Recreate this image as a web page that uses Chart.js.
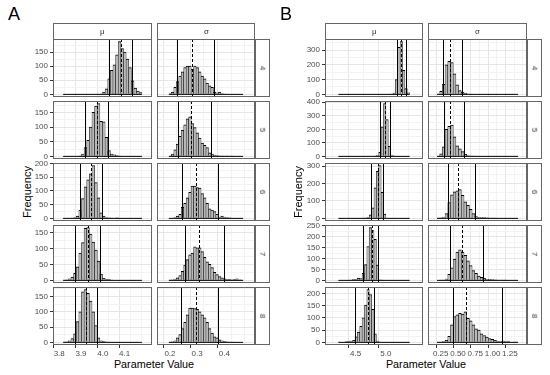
<!DOCTYPE html>
<html>
<head>
<meta charset="utf-8">
<script src="https://cdn.jsdelivr.net/npm/chart.js@4.4.0/dist/chart.umd.min.js"></script>
<style>
body{margin:0;background:#fff;font-family:"Liberation Sans",Arial,sans-serif;}
#wrap{position:relative;width:550px;height:375px;overflow:hidden;}
#wrap canvas{position:absolute;}
.strip{position:absolute;box-sizing:border-box;border:1px solid #666;background:#fff;color:#333;font-size:8px;display:flex;align-items:center;justify-content:center;}
.strip span{display:block;line-height:1;will-change:transform;}
.txt{position:absolute;line-height:1;white-space:nowrap;color:#000;}
</style>
</head>
<body>
<div id="wrap"></div>
<script>
// rows of the facet grid
const kRows = ['4','5','6','7','8'];
const params = ['μ','σ'];

// A: counts per bin (30 bins each)
const muA4 = [0,0,0,0,0,0,0,0,0,0,0,0,0,0,2,8,20,55,85,105,140,187,162,150,125,95,48,22,12,6];
const muA5 = [0,0,0,0,0,0,2,8,30,55,100,150,172,180,120,118,65,20,8,5,3,1,0,0,0,0,0,0,0,0];
const muA6 = [0,0,0,1,3,8,30,72,115,140,162,192,130,75,20,8,3,2,1,0,2,0,0,0,0,0,0,0,0,0];
const muA7 = [1,2,5,10,22,42,85,118,163,165,145,120,95,60,20,6,3,3,1,0,0,0,0,0,0,0,0,0,0,0];
const muA8 = [1,2,5,12,28,68,100,165,172,160,135,100,55,15,5,3,1,0,0,0,0,0,0,0,0,0,0,0,0,0];
const sdA4 = [3,8,25,45,65,80,95,100,100,90,100,95,80,65,55,40,30,25,8,5,8,3,1,0,0,0,0,0,0,0];
const sdA5 = [2,8,22,42,68,90,108,128,135,112,98,80,62,45,38,30,12,8,4,3,2,2,1,2,1,1,0,0,0,0];
const sdA6 = [0,0,3,8,15,40,55,75,95,118,118,112,110,90,75,55,35,30,25,15,5,8,5,3,2,0,0,0,0,0];
const sdA7 = [1,2,4,8,15,28,48,65,80,85,105,102,102,90,72,58,50,40,25,18,12,8,5,3,3,2,3,5,2,1];
const sdA8 = [1,2,5,15,25,45,65,90,112,112,110,108,100,90,80,65,45,30,18,15,8,5,3,2,1,1,0,0,0,0];

// B
const muB4 = [0,0,0,0,0,0,0,0,0,0,0,0,0,0,0,0,0,0,0,0,0,0,1,8,100,320,358,163,40,10];
const muB5 = [0,0,0,0,0,0,0,0,0,0,0,0,0,0,0,2,5,30,218,390,272,75,10,2,0,0,0,0,0,0];
const muB6 = [0,0,0,0,0,0,0,0,0,0,1,2,5,20,60,175,270,303,150,25,2,0,0,0,0,0,0,0,0,0];
const muB7 = [0,0,0,0,1,2,5,6,10,8,32,72,155,242,228,188,70,3,1,0,0,0,0,0,0,0,0,0,0,0];
const muB8 = [1,2,2,3,5,5,8,23,42,65,100,152,215,195,135,35,5,1,0,0,0,0,0,0,0,0,0,0,0,0];
const sdB4 = [3,20,68,200,225,215,140,65,25,15,8,3,1,0,0,0,0,0,0,0,0,0,0,0,0,0,0,0,0,0];
const sdB5 = [3,18,70,200,222,232,145,78,55,35,15,6,2,1,0,0,0,0,0,0,0,0,0,0,0,0,0,0,0,0];
const sdB6 = [1,3,8,28,90,135,152,158,165,132,95,75,52,28,10,6,5,4,3,2,2,1,0,0,0,0,0,0,0,0];
const sdB7 = [0,1,2,6,28,58,98,130,140,130,115,90,68,45,32,20,14,9,5,5,4,3,2,2,1,1,0,0,0,0];
const sdB8 = [1,1,3,8,25,72,105,112,118,115,125,98,88,72,55,50,35,28,22,15,12,8,5,3,5,3,5,2,1,1];

// lower bound, centre (dashed), upper bound
const linesMuA = [[4.027,4.082,4.136],[3.917,3.972,4.022],[3.894,3.945,3.994],[3.874,3.932,3.988],[3.874,3.921,3.975]];
const linesSdA = [[0.226,0.281,0.361],[0.231,0.277,0.350],[0.246,0.297,0.377],[0.254,0.308,0.397],[0.241,0.295,0.378]];
const linesMuB = [[5.180,5.254,5.342],[4.912,4.991,5.070],[4.759,4.877,4.957],[4.625,4.772,4.872],[4.496,4.697,4.807]];
const linesSdB = [[0.276,0.378,0.558],[0.295,0.391,0.592],[0.351,0.496,0.746],[0.382,0.553,0.864],[0.426,0.614,1.141]];

// bin range per column
const binsA = [[3.818,4.179],[0.196,0.469]];
const binsB = [[4.214,5.395],[0.196,1.368]];

// tick labels
const xTicksA = [[3.8,3.9,4.0,4.1],[0.2,0.3,0.4]];
const xTicksB = [[4.5,5.0],[0.25,0.5,0.75,1.0,1.25]];
const xDecA = [1,1];
const xDecB = [1,2];
const yTicksA = [[0,50,100,150],[0,50,100,150],[0,50,100,150,200],[0,50,100,150],[0,50,100,150]];
const yTicksB = [[0,100,200,300],[0,100,200,300,400],[0,100,200,300],[0,50,100,150,200,250],[0,50,100,150,200]];

const histA = [[muA4,sdA4],[muA5,sdA5],[muA6,sdA6],[muA7,sdA7],[muA8,sdA8]];
const histB = [[muB4,sdB4],[muB5,sdB5],[muB6,sdB6],[muB7,sdB7],[muB8,sdB8]];

const sides = [
  {tag:'A', hist:histA, lines:[linesMuA,linesSdA], bins:binsA, xTicks:xTicksA, xDec:xDecA, yTicks:yTicksA,
   colX:[53,157], colW:[99,98], stripX:255, tagX:8, freqX:27, titleX:154},
  {tag:'B', hist:histB, lines:[linesMuB,linesSdB], bins:binsB, xTicks:xTicksB, xDec:xDecB, yTicks:yTicksB,
   colX:[325,428], colW:[98,99], stripX:527, tagX:280, freqX:298, titleX:426}
];

const rowTop = 39, rowH = 58, rowGap = 4, pad = 6;
const tickFont = {family: '"Liberation Sans", Arial', size: 8};
const wrap = document.getElementById('wrap');

function isMajor(v, majors) {
  return majors.some(m => Math.abs(m - v) < 1e-9);
}
function tickIsMajor(ctx, majors) {
  return !!ctx.tick && isMajor(ctx.tick.value, majors);
}
function gridValues(majors, lo, hi) {
  const step = majors[1] - majors[0];
  const vals = [majors[0] - step / 2];
  majors.forEach(m => { vals.push(m); vals.push(m + step / 2); });
  return vals.filter(v => v >= lo && v <= hi);
}

const panelLines = {
  id: 'panelLines',
  afterDatasetsDraw(chart, args, opts) {
    const {ctx, chartArea: a} = chart;
    const x = chart.scales.x, y = chart.scales.y;
    ctx.save();
    ctx.beginPath();
    ctx.rect(a.left, a.top, a.width, a.height);
    ctx.clip();
    ctx.strokeStyle = '#000';
    ctx.lineWidth = 1;
    const y0 = y.getPixelForValue(0);
    ctx.beginPath();
    ctx.moveTo(x.getPixelForValue(opts.lo), y0);
    ctx.lineTo(x.getPixelForValue(opts.hi), y0);
    ctx.stroke();
    opts.lines.forEach((v, i) => {
      ctx.setLineDash(i === 1 ? [3, 2] : []);
      const px = Math.round(x.getPixelForValue(v)) + 0.5;
      ctx.beginPath();
      ctx.moveTo(px, a.top);
      ctx.lineTo(px, a.bottom);
      ctx.stroke();
    });
    ctx.restore();
    ctx.save();
    ctx.strokeStyle = '#666';
    ctx.lineWidth = 1;
    ctx.strokeRect(a.left + 0.5, a.top + 0.5, a.width - 1, a.height - 1);
    ctx.restore();
  }
};

function addDiv(cls, css, html) {
  const d = document.createElement('div');
  d.className = cls;
  d.style.cssText = css;
  d.innerHTML = html;
  wrap.appendChild(d);
  return d;
}

sides.forEach(s => {
  addDiv('txt', `left:${s.tagX}px;top:5px;font-size:18px;`, s.tag);
  const gridMid = rowTop + (5 * rowH + 4 * rowGap) / 2;
  addDiv('txt', `left:${s.freqX}px;top:${gridMid}px;font-size:11px;transform:translate(-50%,-50%) rotate(-90deg);`, 'Frequency');
  addDiv('txt', `left:${s.titleX}px;top:364px;font-size:10.8px;transform:translate(-50%,-50%);`, 'Parameter Value');

  params.forEach((p, c) => {
    addDiv('strip', `left:${s.colX[c]}px;top:23px;width:${s.colW[c]}px;height:17px;`, `<span>${p}</span>`);
  });

  kRows.forEach((k, r) => {
    const top = rowTop + r * (rowH + rowGap);
    addDiv('strip', `left:${s.stripX}px;top:${top}px;width:15px;height:${rowH}px;`, `<span style="transform:rotate(90deg)">${k}</span>`);
    const rowMax = Math.max(...s.hist[r][0], ...s.hist[r][1]);
    const yMin = -0.05 * rowMax, yMax = 1.05 * rowMax;
    const yMaj = s.yTicks[r];

    params.forEach((p, c) => {
      const left = c === 0, bottom = r === kRows.length - 1;
      const yw = left ? 30 : 0, xh = bottom ? 16 : 0;
      const [lo, hi] = s.bins[c];
      const counts = s.hist[r][c];
      const bw = (hi - lo) / counts.length;
      const xMin = lo - 0.05 * (hi - lo), xMax = hi + 0.05 * (hi - lo);
      const xMaj = s.xTicks[c];

      const cv = document.createElement('canvas');
      cv.width = s.colW[c] + 2 * pad + yw;
      cv.height = rowH + 2 * pad + xh;
      cv.style.left = (s.colX[c] - pad - yw) + 'px';
      cv.style.top = (top - pad) + 'px';
      wrap.appendChild(cv);

      new Chart(cv, {
        type: 'bar',
        data: {
          datasets: [{
            data: counts.map((n, i) => ({x: lo + (i + 0.5) * bw, y: n})),
            backgroundColor: '#b9b9b9',
            borderColor: '#000',
            borderWidth: {top: 1, left: 0.5, right: 0.5, bottom: 0},
            borderSkipped: 'start',
            barPercentage: 1,
            categoryPercentage: 1
          }]
        },
        options: {
          responsive: false,
          animation: false,
          devicePixelRatio: 1,
          layout: {padding: pad},
          events: [],
          plugins: {
            legend: {display: false},
            tooltip: {enabled: false},
            panelLines: {lo: lo, hi: hi, lines: s.lines[c][r]}
          },
          scales: {
            x: {
              type: 'linear', min: xMin, max: xMax, bounds: 'data',
              afterBuildTicks: sc => { sc.ticks = gridValues(xMaj, xMin, xMax).map(v => ({value: v})); },
              afterFit: sc => { sc.height = xh; sc.paddingLeft = 0; sc.paddingRight = 0; },
              ticks: {
                display: bottom, autoSkip: false, maxRotation: 0, padding: 1,
                color: '#4d4d4d', font: tickFont,
                callback: v => isMajor(v, xMaj) ? v.toFixed(s.xDec[c]) : ''
              },
              grid: {
                color: ctx => tickIsMajor(ctx, xMaj) ? '#e6e6e6' : '#f3f3f3',
                drawTicks: bottom, tickLength: 3,
                tickColor: ctx => tickIsMajor(ctx, xMaj) ? '#333' : 'rgba(0,0,0,0)'
              },
              border: {display: false}
            },
            y: {
              type: 'linear', min: yMin, max: yMax, bounds: 'data',
              afterBuildTicks: sc => { sc.ticks = gridValues(yMaj, yMin, yMax).map(v => ({value: v})); },
              afterFit: sc => { sc.width = yw; sc.paddingTop = 0; sc.paddingBottom = 0; },
              ticks: {
                display: left, autoSkip: false, padding: 2,
                color: '#4d4d4d', font: tickFont,
                callback: v => isMajor(v, yMaj) ? String(v) : ''
              },
              grid: {
                color: ctx => tickIsMajor(ctx, yMaj) ? '#e6e6e6' : '#f3f3f3',
                drawTicks: left, tickLength: 3,
                tickColor: ctx => tickIsMajor(ctx, yMaj) ? '#333' : 'rgba(0,0,0,0)'
              },
              border: {display: false}
            }
          }
        },
        plugins: [panelLines]
      });
    });
  });
});
</script>
</body>
</html>
